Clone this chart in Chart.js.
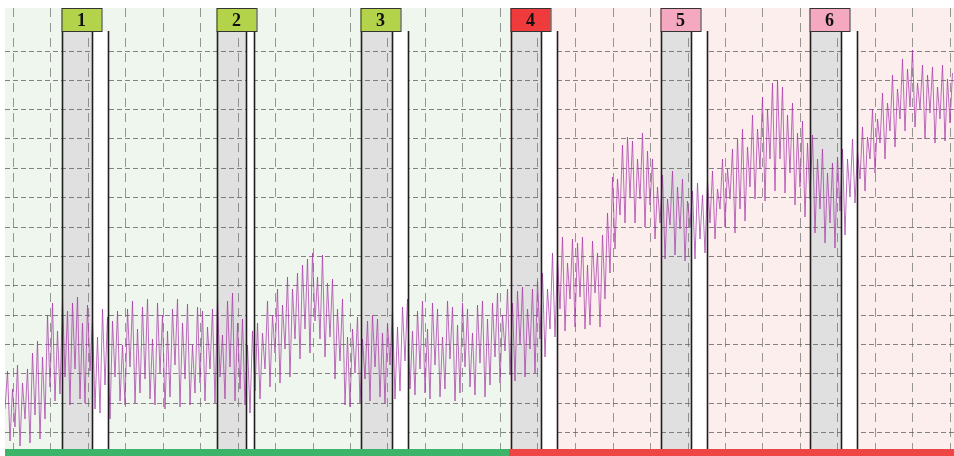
<!DOCTYPE html>
<html>
<head>
<meta charset="utf-8">
<script src="https://cdn.jsdelivr.net/npm/chart.js@4/dist/chart.umd.min.js"></script>
<style>
  html, body { margin: 0; padding: 0; background: #fff; }
  #wrap { width: 954px; height: 456px; }
</style>
</head>
<body>
<div id="wrap"><canvas id="signalChart" width="954" height="456"></canvas></div>
<script>
// trace samples, one every 2.5px, height above the bottom of the plot
const signal = [
  40, 78, 8, 60, 22, 84, 3, 66, 30, 80,
  6, 96, 34, 108, 10, 92, 30, 134, 62, 146,
  48, 118, 55, 150, 72, 138, 44, 146, 80, 152,
  50, 126, 46, 144, 78, 130, 40, 112, 36, 140,
  64, 132, 30, 128, 72, 138, 48, 104, 44, 140,
  82, 148, 46, 120, 56, 142, 70, 150, 50, 110,
  44, 146, 76, 134, 40, 118, 52, 140, 84, 150,
  42, 126, 70, 145, 44, 104, 56, 142, 66, 138,
  48, 122, 80, 140, 46, 150, 72, 114, 50, 148,
  82, 156, 48, 126, 60, 130, 44, 104, 36, 118,
  58, 126, 50, 116, 80, 148, 62, 134, 96, 160,
  66, 144, 100, 172, 72, 160, 110, 176, 90, 184,
  120, 190, 96, 196, 128, 172, 110, 194, 92, 166,
  112, 170, 70, 140, 88, 150, 44, 112, 42, 120,
  76, 132, 46, 110, 70, 128, 48, 134, 82, 130,
  52, 116, 46, 126, 84, 140, 50, 122, 58, 142,
  88, 150, 60, 118, 54, 138, 80, 148, 56, 120,
  50, 146, 84, 140, 52, 112, 60, 148, 90, 142,
  48, 124, 56, 146, 82, 140, 62, 116, 54, 144,
  86, 148, 52, 130, 64, 146, 92, 156, 66, 134,
  98, 160, 74, 146, 68, 158, 104, 162, 72, 140,
  100, 160, 76, 168, 110, 176, 92, 160, 120, 196,
  112, 190, 140, 212, 118, 186, 150, 210, 122, 206,
  152, 212, 120, 184, 124, 208, 156, 196, 122, 214,
  150, 236, 176, 272, 200, 270, 234, 304, 226, 312,
  252, 308, 226, 290, 250, 316, 222, 298, 244, 290,
  210, 262, 226, 274, 190, 250, 224, 278, 194, 262,
  220, 270, 188, 248, 222, 258, 190, 266, 210, 254,
  196, 268, 226, 278, 210, 260, 240, 290, 222, 280,
  250, 300, 216, 310, 240, 320, 228, 302, 262, 334,
  250, 320, 280, 352, 248, 340, 290, 366, 258, 369,
  290, 362, 256, 334, 276, 346, 244, 316, 262, 328,
  232, 306, 250, 314, 216, 290, 240, 300, 206, 276,
  226, 286, 201, 292, 238, 300, 214, 290, 252, 310,
  246, 298, 270, 322, 258, 312, 290, 340, 276, 330,
  306, 356, 290, 346, 318, 374, 302, 360, 330, 390,
  318, 380, 342, 399, 322, 366, 340, 384, 310, 374,
  336, 382, 306, 362, 330, 384, 308, 370, 326, 376
];

// event markers (in sample units)
const markerLabels = ['1', '2', '3', '4', '5', '6'];
const markerStart = [22.8, 84.8, 142.4, 202.4, 262.4, 322];
const markerMid = [34.8, 96.4, 154.8, 214.4, 274.4, 334.4];
const markerEnd = [41.2, 99.6, 161.2, 220.8, 280.8, 340.8];
const markerColors = ['#b3d34b', '#b3d34b', '#b3d34b', '#ef3b3b', '#f4a9c1', '#f4a9c1'];
const phaseSplit = 201.6;

// grid levels
const yGrid = [17, 46, 76, 105, 134, 163.6, 193, 222, 251.5, 281, 310, 339.4, 368.7, 398];
const xGrid = Array.from({ length: 26 }, (_, k) => 3.2 + 15 * k);

const points = signal.map((v, i) => ({ x: i, y: v }));

const markerPlugin = {
    id: 'markers',
    beforeDraw(chart) {
        const { ctx, chartArea: a, scales: { x } } = chart;
        const split = x.getPixelForValue(phaseSplit);
        ctx.save();
        ctx.fillStyle = '#eff6ed';
        ctx.fillRect(a.left, a.top, split - a.left, a.bottom - a.top);
        ctx.fillStyle = '#fdeeee';
        ctx.fillRect(split, a.top, a.right - split, a.bottom - a.top);
        ctx.fillStyle = '#e0e0e0';
        markerStart.forEach((s, i) => {
            const x0 = x.getPixelForValue(s);
            const x1 = x.getPixelForValue(markerMid[i]);
            ctx.fillRect(x0, a.top, x1 - x0, a.bottom - a.top);
        });
        ctx.restore();
    },
    beforeDatasetsDraw(chart) {
        const { ctx, chartArea: a, scales: { x } } = chart;
        ctx.save();
        ctx.fillStyle = '#ffffff';
        markerMid.forEach((m, i) => {
            const x0 = x.getPixelForValue(m);
            const x1 = x.getPixelForValue(markerEnd[i]);
            ctx.fillRect(x0, a.top + 23, x1 - x0, a.bottom - a.top - 23);
        });
        ctx.restore();
    },
    afterDatasetsDraw(chart) {
        const { ctx, chartArea: a, scales: { x } } = chart;
        ctx.save();
        // marker lines
        ctx.strokeStyle = '#1e1e1e';
        ctx.lineWidth = 1.6;
        markerStart.forEach((s, i) => {
            [s, markerMid[i], markerEnd[i]].forEach(v => {
                const px = Math.round(x.getPixelForValue(v)) + 0.5;
                ctx.beginPath();
                ctx.moveTo(px, a.top + 23);
                ctx.lineTo(px, a.bottom);
                ctx.stroke();
            });
        });
        // marker tags
        ctx.font = 'bold 18px "Liberation Serif", serif';
        ctx.textAlign = 'center';
        ctx.textBaseline = 'middle';
        markerStart.forEach((s, i) => {
            const x0 = Math.round(x.getPixelForValue(s)) - 0.5;
            ctx.fillStyle = markerColors[i];
            ctx.fillRect(x0, a.top, 40, 23);
            ctx.strokeStyle = '#333';
            ctx.lineWidth = 1;
            ctx.strokeRect(x0 + 0.5, a.top + 0.5, 40, 23);
            ctx.fillStyle = '#111';
            ctx.fillText(markerLabels[i], x0 + 20, a.top + 13);
        });
        // phase bars
        const split = x.getPixelForValue(phaseSplit);
        ctx.fillStyle = '#3cb46a';
        ctx.fillRect(a.left, a.bottom, split - a.left, 7);
        ctx.fillStyle = '#ee4545';
        ctx.fillRect(split, a.bottom, a.right - split, 7);
        ctx.restore();
    }
};

const chartCtx = document.getElementById('signalChart').getContext('2d');
new Chart(chartCtx, {
    type: 'line',
    data: {
        datasets: [{
            data: points,
            borderColor: 'rgba(165, 55, 165, 0.72)',
            borderWidth: 1,
            pointRadius: 0,
            tension: 0
        }]
    },
    options: {
        responsive: false,
        animation: false,
        layout: { padding: { left: 5, top: 8, right: 0, bottom: 7 } },
        plugins: { legend: { display: false }, tooltip: { enabled: false } },
        scales: {
            x: {
                type: 'linear',
                min: 0,
                max: 379.6,
                afterBuildTicks: s => { s.ticks = xGrid.map(v => ({ value: v })); },
                ticks: { display: false },
                border: { display: false, dash: [9, 6] },
                grid: { color: 'rgba(110,110,110,0.7)', drawTicks: false }
            },
            y: {
                min: 0,
                max: 441,
                afterBuildTicks: s => { s.ticks = yGrid.map(v => ({ value: v })); },
                ticks: { display: false },
                border: { display: false, dash: [5, 3] },
                grid: { color: 'rgba(100,100,100,0.8)', drawTicks: false }
            }
        }
    },
    plugins: [markerPlugin]
});
</script>
</body>
</html>
